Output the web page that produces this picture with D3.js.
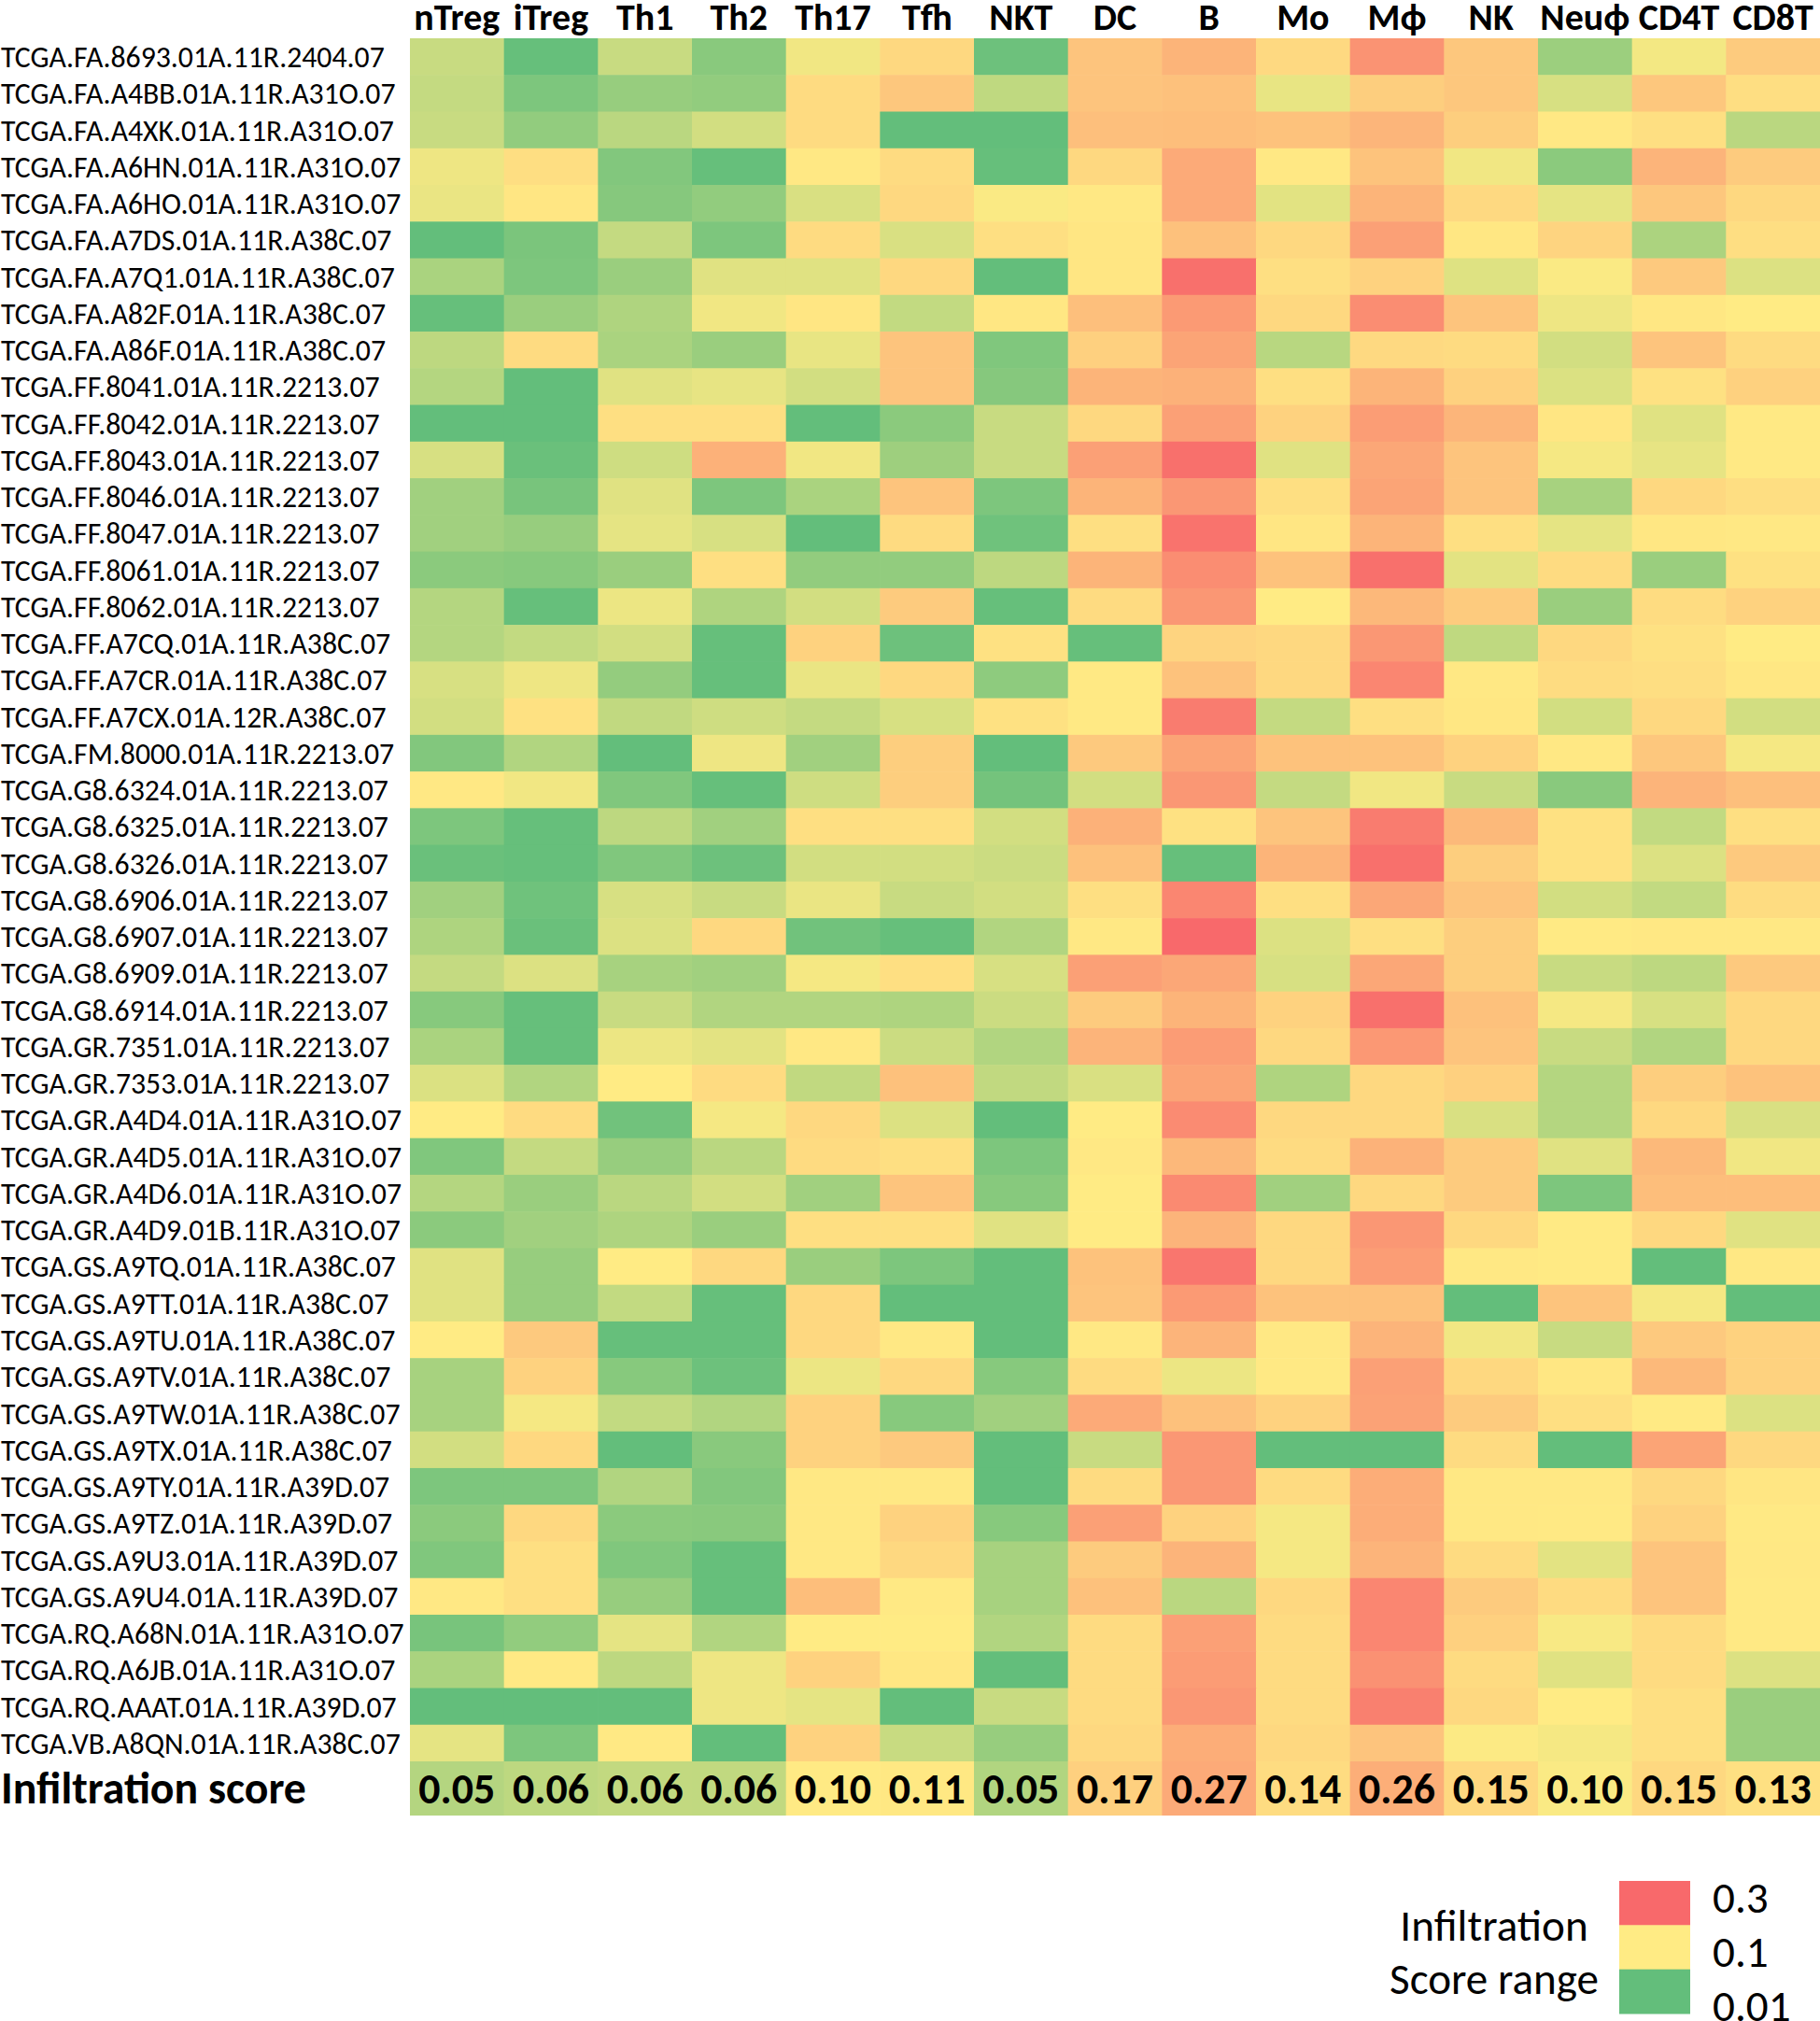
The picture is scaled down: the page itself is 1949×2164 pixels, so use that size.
<!DOCTYPE html>
<html>
<head>
<meta charset="utf-8">
<script src="https://cdn.jsdelivr.net/npm/d3@7"></script>
<style>
  body { margin: 0; background: #fff; }
  svg { display: block; }
  text { font-family: Carlito, Lato, "Open Sans", sans-serif; fill: #000; }
</style>
</head>
<body>
<div id="chart"></div>
<script>
const cellTypes = ["nTreg", "iTreg", "Th1", "Th2", "Th17", "Tfh", "NKT", "DC", "B", "Mo", "Mϕ", "NK", "Neuϕ", "CD4T", "CD8T"];

const samples = [
    "TCGA.FA.8693.01A.11R.2404.07", "TCGA.FA.A4BB.01A.11R.A31O.07", "TCGA.FA.A4XK.01A.11R.A31O.07",
    "TCGA.FA.A6HN.01A.11R.A31O.07", "TCGA.FA.A6HO.01A.11R.A31O.07", "TCGA.FA.A7DS.01A.11R.A38C.07",
    "TCGA.FA.A7Q1.01A.11R.A38C.07", "TCGA.FA.A82F.01A.11R.A38C.07", "TCGA.FA.A86F.01A.11R.A38C.07",
    "TCGA.FF.8041.01A.11R.2213.07", "TCGA.FF.8042.01A.11R.2213.07", "TCGA.FF.8043.01A.11R.2213.07",
    "TCGA.FF.8046.01A.11R.2213.07", "TCGA.FF.8047.01A.11R.2213.07", "TCGA.FF.8061.01A.11R.2213.07",
    "TCGA.FF.8062.01A.11R.2213.07", "TCGA.FF.A7CQ.01A.11R.A38C.07", "TCGA.FF.A7CR.01A.11R.A38C.07",
    "TCGA.FF.A7CX.01A.12R.A38C.07", "TCGA.FM.8000.01A.11R.2213.07", "TCGA.G8.6324.01A.11R.2213.07",
    "TCGA.G8.6325.01A.11R.2213.07", "TCGA.G8.6326.01A.11R.2213.07", "TCGA.G8.6906.01A.11R.2213.07",
    "TCGA.G8.6907.01A.11R.2213.07", "TCGA.G8.6909.01A.11R.2213.07", "TCGA.G8.6914.01A.11R.2213.07",
    "TCGA.GR.7351.01A.11R.2213.07", "TCGA.GR.7353.01A.11R.2213.07", "TCGA.GR.A4D4.01A.11R.A31O.07",
    "TCGA.GR.A4D5.01A.11R.A31O.07", "TCGA.GR.A4D6.01A.11R.A31O.07", "TCGA.GR.A4D9.01B.11R.A31O.07",
    "TCGA.GS.A9TQ.01A.11R.A38C.07", "TCGA.GS.A9TT.01A.11R.A38C.07", "TCGA.GS.A9TU.01A.11R.A38C.07",
    "TCGA.GS.A9TV.01A.11R.A38C.07", "TCGA.GS.A9TW.01A.11R.A38C.07", "TCGA.GS.A9TX.01A.11R.A38C.07",
    "TCGA.GS.A9TY.01A.11R.A39D.07", "TCGA.GS.A9TZ.01A.11R.A39D.07", "TCGA.GS.A9U3.01A.11R.A39D.07",
    "TCGA.GS.A9U4.01A.11R.A39D.07", "TCGA.RQ.A68N.01A.11R.A31O.07", "TCGA.RQ.A6JB.01A.11R.A31O.07",
    "TCGA.RQ.AAAT.01A.11R.A39D.07", "TCGA.VB.A8QN.01A.11R.A38C.07"
];

// one row per sample, columns in cellTypes order
const infiltration = [
    [.068, .012, .068, .032, .092, .13, .016, .16, .185, .128, .235, .155, .043, .093, .15],
    [.066, .025, .04, .037, .125, .155, .063, .16, .165, .087, .145, .155, .077, .155, .12],
    [.068, .037, .06, .074, .125, .01, .01, .167, .17, .163, .183, .145, .104, .118, .06],
    [.09, .12, .028, .012, .104, .125, .012, .13, .2, .104, .162, .092, .033, .184, .15],
    [.088, .108, .03, .037, .078, .13, .097, .104, .2, .083, .185, .127, .085, .155, .13],
    [.01, .024, .066, .025, .125, .078, .118, .108, .165, .13, .215, .106, .135, .052, .12],
    [.051, .025, .042, .082, .082, .13, .01, .108, .29, .118, .138, .081, .097, .152, .08],
    [.012, .042, .054, .092, .108, .065, .106, .168, .225, .13, .245, .16, .09, .106, .1],
    [.062, .125, .051, .042, .087, .16, .027, .142, .21, .059, .127, .125, .074, .16, .125],
    [.057, .01, .082, .086, .074, .16, .03, .185, .19, .118, .185, .14, .079, .115, .14],
    [.01, .01, .118, .118, .01, .033, .068, .13, .215, .138, .22, .183, .108, .082, .103],
    [.077, .014, .072, .19, .092, .044, .068, .215, .29, .082, .205, .16, .094, .086, .103],
    [.046, .022, .082, .025, .051, .16, .025, .185, .23, .118, .21, .16, .049, .13, .12],
    [.046, .04, .085, .077, .01, .125, .017, .118, .285, .108, .185, .118, .085, .106, .104],
    [.033, .031, .042, .118, .037, .037, .062, .185, .245, .163, .29, .084, .125, .042, .115],
    [.057, .012, .089, .054, .074, .15, .012, .125, .23, .1, .178, .15, .042, .123, .138],
    [.057, .065, .074, .012, .138, .016, .115, .012, .135, .13, .23, .063, .13, .115, .1],
    [.077, .09, .038, .012, .088, .13, .035, .103, .163, .13, .255, .104, .123, .12, .106],
    [.074, .115, .064, .072, .066, .077, .115, .103, .27, .066, .118, .106, .074, .13, .074],
    [.028, .055, .01, .09, .046, .145, .01, .152, .21, .163, .163, .138, .104, .155, .094],
    [.104, .092, .027, .012, .072, .145, .02, .074, .23, .066, .092, .068, .032, .184, .167],
    [.025, .012, .062, .046, .118, .118, .074, .19, .115, .16, .27, .177, .115, .065, .118],
    [.014, .012, .027, .016, .074, .074, .07, .165, .012, .185, .29, .145, .115, .08, .152],
    [.046, .017, .077, .068, .088, .068, .074, .118, .255, .118, .205, .16, .074, .065, .123],
    [.053, .014, .08, .13, .018, .012, .055, .104, .3, .08, .118, .145, .102, .104, .104],
    [.066, .08, .049, .046, .094, .118, .077, .215, .205, .077, .205, .145, .068, .062, .152],
    [.031, .012, .068, .055, .055, .053, .07, .15, .185, .138, .29, .165, .094, .077, .13],
    [.051, .012, .089, .084, .104, .07, .055, .184, .222, .13, .227, .16, .068, .055, .13],
    [.079, .055, .1, .125, .064, .165, .064, .078, .21, .054, .13, .142, .057, .145, .163],
    [.1, .125, .018, .094, .13, .08, .01, .1, .247, .13, .13, .078, .057, .13, .078],
    [.027, .066, .04, .06, .125, .118, .025, .104, .178, .125, .187, .15, .082, .177, .092],
    [.057, .042, .06, .074, .046, .16, .031, .1, .25, .046, .13, .15, .025, .17, .17],
    [.033, .046, .053, .042, .118, .118, .082, .1, .184, .13, .23, .13, .102, .13, .082],
    [.082, .04, .1, .13, .042, .025, .01, .163, .28, .13, .22, .104, .102, .01, .104],
    [.082, .04, .065, .012, .13, .01, .01, .16, .225, .163, .165, .01, .16, .094, .01],
    [.1, .152, .012, .012, .13, .104, .01, .104, .184, .104, .184, .092, .068, .152, .138],
    [.049, .138, .031, .016, .089, .13, .031, .125, .089, .103, .215, .13, .106, .177, .138],
    [.049, .094, .065, .055, .138, .031, .046, .2, .165, .138, .212, .15, .118, .102, .08],
    [.074, .13, .01, .032, .138, .152, .01, .068, .23, .01, .01, .125, .01, .21, .13],
    [.025, .025, .055, .028, .104, .104, .01, .125, .23, .125, .195, .104, .104, .13, .108],
    [.033, .13, .033, .032, .104, .138, .031, .215, .138, .094, .195, .104, .103, .138, .103],
    [.027, .118, .027, .012, .104, .13, .049, .15, .184, .094, .184, .125, .084, .16, .104],
    [.104, .118, .04, .012, .17, .103, .049, .165, .06, .13, .255, .15, .125, .16, .103],
    [.022, .037, .085, .055, .1, .1, .055, .125, .215, .125, .255, .142, .096, .125, .103],
    [.051, .103, .062, .09, .138, .106, .01, .125, .222, .125, .238, .125, .082, .125, .08],
    [.01, .01, .01, .09, .085, .01, .068, .125, .23, .125, .265, .13, .1, .118, .042],
    [.085, .025, .103, .01, .138, .068, .04, .13, .195, .13, .16, .098, .094, .118, .042]
];

const totalScores = [0.052, 0.058, 0.061, 0.06, 0.102, 0.108, 0.05, 0.17, 0.27, 0.14, 0.26, 0.15, 0.097, 0.15, 0.13];
const legendTicks = [0.3, 0.1, 0.01];

const width = 1949;
const height = 2164;

const svg = d3.select("#chart")
    .append("svg")
    .attr("width", width)
    .attr("height", height);

const x = d3.scaleBand().domain(cellTypes).range([439, 1949]);
const y = d3.scaleBand().domain(samples).range([41, 1886]);
const scoreTop = 1886, scoreBottom = 1944;

// excel style 3-colour scale
const color = d3.scaleLinear()
    .domain([0.01, 0.1, 0.3])
    .range(["#63BE7B", "#FFEB84", "#F8696B"])
    .clamp(true);
const scoreColor = d3.scaleLinear()
    .domain([0, 0.1, 0.44])
    .range(["#63BE7B", "#FFEB84", "#F8696B"])
    .clamp(true);

// pick a font size so a sample string gets a given width
function fitSize(str, weight, target) {
    const t = svg.append("text").attr("font-size", 100).attr("font-weight", weight).text(str);
    const w = t.node().getComputedTextLength();
    t.remove();
    return 100 * target / w;
}

const cells = [];
infiltration.forEach((row, i) => {
    row.forEach((v, j) => cells.push({ sample: samples[i], type: cellTypes[j], value: v }));
});

svg.append("g")
    .selectAll("rect")
    .data(cells)
    .join("rect")
    .attr("x", d => x(d.type))
    .attr("y", d => y(d.sample))
    .attr("width", x.bandwidth() + 0.6)
    .attr("height", y.bandwidth() + 0.6)
    .attr("fill", d => color(d.value));

// column headers
const headSize = fitSize("nTreg", 700, 92);
svg.append("g")
    .selectAll("text")
    .data(cellTypes)
    .join("text")
    .attr("x", d => x(d) + x.bandwidth() / 2)
    .attr("y", 32)
    .attr("text-anchor", "middle")
    .attr("font-weight", 700)
    .attr("font-size", headSize)
    .text(d => d);

// row labels
const rowSize = fitSize(samples[0], 400, 411);
svg.append("g")
    .selectAll("text")
    .data(samples)
    .join("text")
    .attr("x", 1)
    .attr("y", d => y(d) + y.bandwidth() / 2 + rowSize * 0.36)
    .attr("font-size", rowSize)
    .text(d => d);

// infiltration score row
svg.append("g")
    .selectAll("rect")
    .data(totalScores)
    .join("rect")
    .attr("x", (d, i) => x(cellTypes[i]))
    .attr("y", scoreTop)
    .attr("width", x.bandwidth() + 0.6)
    .attr("height", scoreBottom - scoreTop)
    .attr("fill", d => scoreColor(d));

const numSize = fitSize("0.05", 700, 82);
svg.append("g")
    .selectAll("text")
    .data(totalScores)
    .join("text")
    .attr("x", (d, i) => x(cellTypes[i]) + x.bandwidth() / 2)
    .attr("y", 1931)
    .attr("text-anchor", "middle")
    .attr("font-weight", 700)
    .attr("font-size", numSize)
    .text(d => d3.format(".2f")(d));

svg.append("text")
    .attr("x", 1)
    .attr("y", 1931)
    .attr("font-weight", 700)
    .attr("font-size", fitSize("Infiltration score", 700, 327))
    .text("Infiltration score");

// legend
const legY = d3.scaleBand().domain(legendTicks).range([2014, 2156]);
const legSize = fitSize("Score range", 400, 224);
const legend = svg.append("g");

legend.selectAll("rect")
    .data(legendTicks)
    .join("rect")
    .attr("x", 1734)
    .attr("y", d => legY(d))
    .attr("width", 76)
    .attr("height", legY.bandwidth() + 0.5)
    .attr("fill", d => color(d));

legend.selectAll("text.tick")
    .data(legendTicks)
    .join("text")
    .attr("class", "tick")
    .attr("x", 1834)
    .attr("y", (d, i) => 2048 + i * 58)
    .attr("font-size", legSize)
    .text(d => d);

legend.selectAll("text.title")
    .data(["Infiltration", "Score range"])
    .join("text")
    .attr("class", "title")
    .attr("x", 1600)
    .attr("y", (d, i) => 2078 + i * 57)
    .attr("text-anchor", "middle")
    .attr("font-size", legSize)
    .text(d => d);
</script>
</body>
</html>
